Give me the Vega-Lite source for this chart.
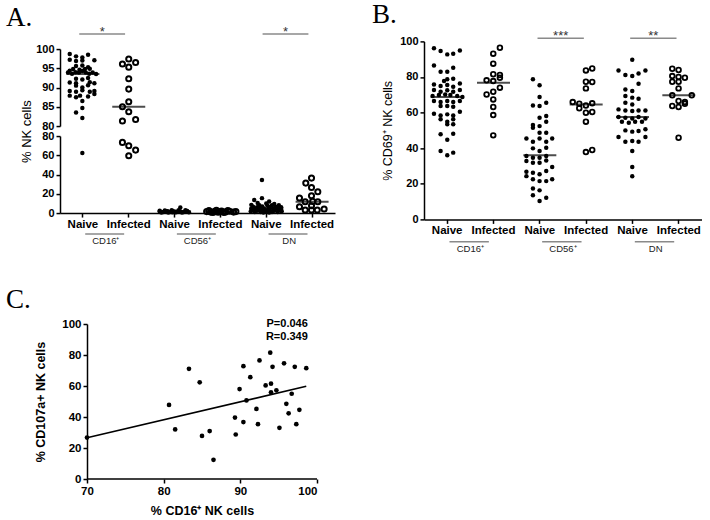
{
  "$schema": "https://vega.github.io/schema/vega-lite/v6.json",
  "padding": {"left": 6, "top": 0, "right": 0, "bottom": 0},
  "background": "white",
  "datasets": {
    "A": [
      {"cat":"CD16 Naive","v":98.7,"o":-2.3},{"cat":"CD16 Naive","v":98.1,"o":-1.2},{"cat":"CD16 Naive","v":97.8,"o":-0.1},{"cat":"CD16 Naive","v":98.5,"o":0.9},
      {"cat":"CD16 Naive","v":97.2,"o":-2.3},{"cat":"CD16 Naive","v":96.9,"o":-1.2},{"cat":"CD16 Naive","v":97.0,"o":-0.1},{"cat":"CD16 Naive","v":97.1,"o":2.0},
      {"cat":"CD16 Naive","v":95.6,"o":-1.2},{"cat":"CD16 Naive","v":95.7,"o":-0.1},{"cat":"CD16 Naive","v":95.3,"o":0.9},{"cat":"CD16 Naive","v":94.4,"o":-2.3},
      {"cat":"CD16 Naive","v":94.8,"o":-1.7},{"cat":"CD16 Naive","v":94.6,"o":-0.6},{"cat":"CD16 Naive","v":94.8,"o":0.35},{"cat":"CD16 Naive","v":94.9,"o":1.2},
      {"cat":"CD16 Naive","v":93.9,"o":-2.6},{"cat":"CD16 Naive","v":93.6,"o":-1.9},{"cat":"CD16 Naive","v":94.0,"o":-1.3},{"cat":"CD16 Naive","v":93.9,"o":-0.7},
      {"cat":"CD16 Naive","v":94.3,"o":-0.1},{"cat":"CD16 Naive","v":93.9,"o":0.5},{"cat":"CD16 Naive","v":93.6,"o":1.1},{"cat":"CD16 Naive","v":93.9,"o":1.7},
      {"cat":"CD16 Naive","v":93.5,"o":2.3},{"cat":"CD16 Naive","v":92.3,"o":-1.2},{"cat":"CD16 Naive","v":92.1,"o":-0.1},{"cat":"CD16 Naive","v":92.5,"o":0.9},
      {"cat":"CD16 Naive","v":91.3,"o":-2.3},{"cat":"CD16 Naive","v":91.1,"o":-1.2},{"cat":"CD16 Naive","v":91.4,"o":1.2},{"cat":"CD16 Naive","v":91.1,"o":2.0},
      {"cat":"CD16 Naive","v":90.5,"o":-1.2},{"cat":"CD16 Naive","v":90.0,"o":-0.1},{"cat":"CD16 Naive","v":90.6,"o":0.9},{"cat":"CD16 Naive","v":89.1,"o":-2.3},
      {"cat":"CD16 Naive","v":88.9,"o":-1.2},{"cat":"CD16 Naive","v":89.3,"o":-0.1},{"cat":"CD16 Naive","v":88.9,"o":1.2},{"cat":"CD16 Naive","v":89.1,"o":2.0},
      {"cat":"CD16 Naive","v":87.9,"o":-2.3},{"cat":"CD16 Naive","v":87.5,"o":-1.2},{"cat":"CD16 Naive","v":87.9,"o":-0.5},{"cat":"CD16 Naive","v":87.7,"o":0.9},
      {"cat":"CD16 Naive","v":88.3,"o":2.0},{"cat":"CD16 Naive","v":86.5,"o":-0.1},{"cat":"CD16 Naive","v":84.7,"o":-0.1},{"cat":"CD16 Naive","v":83.5,"o":-1.2},
      {"cat":"CD16 Naive","v":82.1,"o":-0.1},{"cat":"CD16 Naive","v":62.5,"o":-0.1},
      {"cat":"CD16 Infected","v":97.4,"o":0},{"cat":"CD16 Infected","v":96.1,"o":-1.1},{"cat":"CD16 Infected","v":95.3,"o":0},{"cat":"CD16 Infected","v":96.5,"o":1.2},
      {"cat":"CD16 Infected","v":92.3,"o":0},{"cat":"CD16 Infected","v":89.6,"o":0},{"cat":"CD16 Infected","v":86.3,"o":0},{"cat":"CD16 Infected","v":85.0,"o":-1.1},
      {"cat":"CD16 Infected","v":83.7,"o":0},{"cat":"CD16 Infected","v":81.3,"o":-1.1},{"cat":"CD16 Infected","v":81.7,"o":1.2},{"cat":"CD16 Infected","v":73.4,"o":-1.1},
      {"cat":"CD16 Infected","v":69.9,"o":0},{"cat":"CD16 Infected","v":65.4,"o":1.2},{"cat":"CD16 Infected","v":59.5,"o":0},
      {"cat":"CD56 Naive","v":1.5,"o":-2.6},{"cat":"CD56 Naive","v":1.0,"o":-2.0},{"cat":"CD56 Naive","v":1.8,"o":-1.4},{"cat":"CD56 Naive","v":1.2,"o":-0.8},
      {"cat":"CD56 Naive","v":2.0,"o":-0.2},{"cat":"CD56 Naive","v":1.0,"o":0.4},{"cat":"CD56 Naive","v":1.6,"o":1.0},{"cat":"CD56 Naive","v":1.2,"o":1.6},
      {"cat":"CD56 Naive","v":2.2,"o":2.2},{"cat":"CD56 Naive","v":0.6,"o":-2.3},{"cat":"CD56 Naive","v":0.5,"o":-1.1},{"cat":"CD56 Naive","v":0.7,"o":0.1},
      {"cat":"CD56 Naive","v":0.5,"o":1.3},{"cat":"CD56 Naive","v":0.8,"o":2.5},{"cat":"CD56 Naive","v":2.6,"o":-1.7},{"cat":"CD56 Naive","v":3.0,"o":-0.5},
      {"cat":"CD56 Naive","v":2.8,"o":0.7},{"cat":"CD56 Naive","v":5.8,"o":1.0},{"cat":"CD56 Naive","v":3.0,"o":1.9},{"cat":"CD56 Naive","v":2.4,"o":-2.6},
      {"cat":"CD56 Naive","v":1.4,"o":0.2},{"cat":"CD56 Naive","v":1.9,"o":-1.2},{"cat":"CD56 Naive","v":1.5,"o":2.0},{"cat":"CD56 Naive","v":0.9,"o":-0.4},
      {"cat":"CD56 Infected","v":1.5,"o":-2.4},{"cat":"CD56 Infected","v":1.0,"o":-1.7},{"cat":"CD56 Infected","v":1.8,"o":-1.0},{"cat":"CD56 Infected","v":0.8,"o":-0.4},
      {"cat":"CD56 Infected","v":2.2,"o":0.2},{"cat":"CD56 Infected","v":1.2,"o":0.9},{"cat":"CD56 Infected","v":1.8,"o":1.6},{"cat":"CD56 Infected","v":1.0,"o":2.3},
      {"cat":"CD56 Infected","v":1.5,"o":2.7},{"cat":"CD56 Infected","v":2.5,"o":-2.0},{"cat":"CD56 Infected","v":2.8,"o":-0.7},{"cat":"CD56 Infected","v":0.5,"o":0.6},
      {"cat":"CD56 Infected","v":2.6,"o":1.3},{"cat":"CD56 Infected","v":0.5,"o":-1.3},{"cat":"CD56 Infected","v":1.5,"o":0},
      {"cat":"DN Naive","v":34.3,"o":-0.75},{"cat":"DN Naive","v":13.5,"o":-2.1},{"cat":"DN Naive","v":15.5,"o":-0.75},{"cat":"DN Naive","v":12.0,"o":0.5},
      {"cat":"DN Naive","v":10.5,"o":-1.5},{"cat":"DN Naive","v":10.0,"o":0},{"cat":"DN Naive","v":9.5,"o":1.4},{"cat":"DN Naive","v":8.5,"o":-2.6},
      {"cat":"DN Naive","v":8.0,"o":-1.2},{"cat":"DN Naive","v":7.8,"o":0.2},{"cat":"DN Naive","v":8.2,"o":1.0},{"cat":"DN Naive","v":8.0,"o":2.2},
      {"cat":"DN Naive","v":6.5,"o":-2.3},{"cat":"DN Naive","v":6.0,"o":-1.6},{"cat":"DN Naive","v":6.8,"o":-0.7},{"cat":"DN Naive","v":6.2,"o":0.6},
      {"cat":"DN Naive","v":6.5,"o":1.6},{"cat":"DN Naive","v":6.0,"o":2.6},{"cat":"DN Naive","v":4.8,"o":-2.6},{"cat":"DN Naive","v":4.5,"o":-1.9},
      {"cat":"DN Naive","v":5.0,"o":-1.2},{"cat":"DN Naive","v":4.8,"o":-0.4},{"cat":"DN Naive","v":5.0,"o":0.4},{"cat":"DN Naive","v":4.5,"o":1.2},
      {"cat":"DN Naive","v":4.8,"o":1.9},{"cat":"DN Naive","v":4.6,"o":2.6},{"cat":"DN Naive","v":3.0,"o":-2.4},{"cat":"DN Naive","v":2.5,"o":-1.6},
      {"cat":"DN Naive","v":3.2,"o":-0.9},{"cat":"DN Naive","v":2.8,"o":-0.2},{"cat":"DN Naive","v":3.0,"o":0.6},{"cat":"DN Naive","v":2.5,"o":1.4},
      {"cat":"DN Naive","v":3.0,"o":2.2},{"cat":"DN Naive","v":1.2,"o":-2.0},{"cat":"DN Naive","v":1.0,"o":-1.0},{"cat":"DN Naive","v":1.5,"o":0},
      {"cat":"DN Naive","v":1.0,"o":1.0},{"cat":"DN Naive","v":1.2,"o":2.0},{"cat":"DN Naive","v":0.5,"o":-0.5},{"cat":"DN Naive","v":0.6,"o":0.5},
      {"cat":"DN Naive","v":2.0,"o":2.7},{"cat":"DN Naive","v":2.0,"o":-2.7},
      {"cat":"DN Infected","v":36.3,"o":-0.1},{"cat":"DN Infected","v":31.1,"o":-1.1},{"cat":"DN Infected","v":26.6,"o":-0.1},{"cat":"DN Infected","v":22.1,"o":1.0},
      {"cat":"DN Infected","v":18.0,"o":-0.1},{"cat":"DN Infected","v":15.6,"o":-2.2},{"cat":"DN Infected","v":11.8,"o":-1.2},{"cat":"DN Infected","v":12.1,"o":0.1},
      {"cat":"DN Infected","v":11.8,"o":1.0},{"cat":"DN Infected","v":6.6,"o":-2.2},{"cat":"DN Infected","v":3.1,"o":-1.2},{"cat":"DN Infected","v":3.1,"o":-0.1},
      {"cat":"DN Infected","v":3.1,"o":0.9},{"cat":"DN Infected","v":4.2,"o":2.1},{"cat":"DN Infected","v":7.6,"o":-0.1}
    ],
    "medA": [
      {"cat":"CD16 Naive","median":93.5},{"cat":"CD16 Infected","median":85.0},{"cat":"CD56 Naive","median":1.5},
      {"cat":"CD56 Infected","median":1.5},{"cat":"DN Naive","median":5.0},{"cat":"DN Infected","median":11.8}
    ],
    "B": [
      {"cat":"CD16 Naive","v":96.1,"o":-2.26},{"cat":"CD16 Naive","v":94.6,"o":-1.1},{"cat":"CD16 Naive","v":92.7,"o":0.06},{"cat":"CD16 Naive","v":93.1,"o":1.1},
      {"cat":"CD16 Naive","v":94.9,"o":2.26},{"cat":"CD16 Naive","v":86.5,"o":-2.26},{"cat":"CD16 Naive","v":83.0,"o":-1.1},{"cat":"CD16 Naive","v":83.0,"o":0.06},
      {"cat":"CD16 Naive","v":85.2,"o":1.1},{"cat":"CD16 Naive","v":77.7,"o":-0.5},{"cat":"CD16 Naive","v":78.7,"o":0.06},{"cat":"CD16 Naive","v":79.0,"o":1.1},
      {"cat":"CD16 Naive","v":75.8,"o":-2.26},{"cat":"CD16 Naive","v":74.9,"o":-1.1},{"cat":"CD16 Naive","v":75.5,"o":0.06},{"cat":"CD16 Naive","v":74.5,"o":1.1},
      {"cat":"CD16 Naive","v":76.4,"o":2.26},{"cat":"CD16 Naive","v":72.7,"o":-2.26},{"cat":"CD16 Naive","v":71.7,"o":-1.1},{"cat":"CD16 Naive","v":72.5,"o":0.06},
      {"cat":"CD16 Naive","v":71.7,"o":1.1},{"cat":"CD16 Naive","v":72.7,"o":2.26},{"cat":"CD16 Naive","v":69.3,"o":-2.5},{"cat":"CD16 Naive","v":69.9,"o":-1.4},
      {"cat":"CD16 Naive","v":70.2,"o":-0.3},{"cat":"CD16 Naive","v":69.9,"o":0.6},{"cat":"CD16 Naive","v":69.3,"o":1.8},{"cat":"CD16 Naive","v":68.7,"o":2.7},
      {"cat":"CD16 Naive","v":66.5,"o":-2.26},{"cat":"CD16 Naive","v":65.9,"o":-1.1},{"cat":"CD16 Naive","v":66.5,"o":0.06},{"cat":"CD16 Naive","v":65.9,"o":1.1},
      {"cat":"CD16 Naive","v":66.5,"o":2.26},{"cat":"CD16 Naive","v":63.7,"o":-1.1},{"cat":"CD16 Naive","v":63.7,"o":0.06},{"cat":"CD16 Naive","v":63.3,"o":1.1},
      {"cat":"CD16 Naive","v":59.4,"o":-2.26},{"cat":"CD16 Naive","v":58.4,"o":-1.1},{"cat":"CD16 Naive","v":59.0,"o":0.06},{"cat":"CD16 Naive","v":58.4,"o":1.1},
      {"cat":"CD16 Naive","v":60.5,"o":2.26},{"cat":"CD16 Naive","v":56.2,"o":-1.1},{"cat":"CD16 Naive","v":54.9,"o":0.06},{"cat":"CD16 Naive","v":56.2,"o":1.1},
      {"cat":"CD16 Naive","v":53.4,"o":0.06},{"cat":"CD16 Naive","v":53.4,"o":1.1},{"cat":"CD16 Naive","v":47.8,"o":-1.1},{"cat":"CD16 Naive","v":48.1,"o":1.1},
      {"cat":"CD16 Naive","v":44.8,"o":0.06},{"cat":"CD16 Naive","v":38.4,"o":-1.1},{"cat":"CD16 Naive","v":37.5,"o":1.1},{"cat":"CD16 Naive","v":36.0,"o":0.06},
      {"cat":"CD16 Infected","v":96.4,"o":1.16},{"cat":"CD16 Infected","v":93.1,"o":0},{"cat":"CD16 Infected","v":87.5,"o":0},{"cat":"CD16 Infected","v":81.5,"o":0},
      {"cat":"CD16 Infected","v":81.1,"o":1.16},{"cat":"CD16 Infected","v":79.6,"o":1.16},{"cat":"CD16 Infected","v":78.1,"o":-1.16},{"cat":"CD16 Infected","v":77.7,"o":0},
      {"cat":"CD16 Infected","v":74.0,"o":1.16},{"cat":"CD16 Infected","v":70.2,"o":-1.16},{"cat":"CD16 Infected","v":71.7,"o":0},{"cat":"CD16 Infected","v":67.4,"o":0},
      {"cat":"CD16 Infected","v":63.1,"o":0},{"cat":"CD16 Infected","v":58.6,"o":0},{"cat":"CD16 Infected","v":47.2,"o":0},
      {"cat":"CD56 Naive","v":78.7,"o":-1.16},{"cat":"CD56 Naive","v":75.3,"o":0},{"cat":"CD56 Naive","v":68.7,"o":0},{"cat":"CD56 Naive","v":64.0,"o":-1.16},
      {"cat":"CD56 Naive","v":63.7,"o":0},{"cat":"CD56 Naive","v":65.5,"o":1.16},{"cat":"CD56 Naive","v":57.1,"o":0},{"cat":"CD56 Naive","v":58.1,"o":1.16},
      {"cat":"CD56 Naive","v":53.0,"o":-1.16},{"cat":"CD56 Naive","v":51.5,"o":-1.16},{"cat":"CD56 Naive","v":52.4,"o":0},{"cat":"CD56 Naive","v":54.9,"o":1.16},
      {"cat":"CD56 Naive","v":48.7,"o":0},{"cat":"CD56 Naive","v":48.7,"o":1.16},{"cat":"CD56 Naive","v":45.5,"o":-2.3},{"cat":"CD56 Naive","v":43.6,"o":-1.16},
      {"cat":"CD56 Naive","v":45.5,"o":0},{"cat":"CD56 Naive","v":43.6,"o":1.16},{"cat":"CD56 Naive","v":45.5,"o":2.2},{"cat":"CD56 Naive","v":39.9,"o":-1.16},
      {"cat":"CD56 Naive","v":38.4,"o":0},{"cat":"CD56 Naive","v":40.3,"o":1.16},{"cat":"CD56 Naive","v":35.6,"o":-2.3},{"cat":"CD56 Naive","v":34.6,"o":-1.16},
      {"cat":"CD56 Naive","v":34.6,"o":0},{"cat":"CD56 Naive","v":35.6,"o":1.16},{"cat":"CD56 Naive","v":32.8,"o":-2.3},{"cat":"CD56 Naive","v":31.8,"o":-1.16},
      {"cat":"CD56 Naive","v":31.8,"o":0},{"cat":"CD56 Naive","v":33.1,"o":1.16},{"cat":"CD56 Naive","v":26.8,"o":-2.3},{"cat":"CD56 Naive","v":24.3,"o":-2.3},
      {"cat":"CD56 Naive","v":26.2,"o":-1.16},{"cat":"CD56 Naive","v":25.3,"o":0},{"cat":"CD56 Naive","v":27.2,"o":1.16},{"cat":"CD56 Naive","v":29.4,"o":2.2},
      {"cat":"CD56 Naive","v":22.5,"o":-1.16},{"cat":"CD56 Naive","v":21.5,"o":0},{"cat":"CD56 Naive","v":21.5,"o":1.16},{"cat":"CD56 Naive","v":22.5,"o":2.2},
      {"cat":"CD56 Naive","v":17.4,"o":-1.16},{"cat":"CD56 Naive","v":16.3,"o":0},{"cat":"CD56 Naive","v":13.5,"o":-1.16},{"cat":"CD56 Naive","v":12.2,"o":1.16},
      {"cat":"CD56 Naive","v":10.3,"o":0},
      {"cat":"CD56 Infected","v":83.7,"o":0},{"cat":"CD56 Infected","v":84.8,"o":1.1},{"cat":"CD56 Infected","v":77.3,"o":0},{"cat":"CD56 Infected","v":77.2,"o":1.1},
      {"cat":"CD56 Infected","v":73.6,"o":0},{"cat":"CD56 Infected","v":65.9,"o":-2.3},{"cat":"CD56 Infected","v":65.0,"o":-1.16},{"cat":"CD56 Infected","v":64.0,"o":0},
      {"cat":"CD56 Infected","v":65.2,"o":1.1},{"cat":"CD56 Infected","v":62.4,"o":-1.16},{"cat":"CD56 Infected","v":59.9,"o":0},{"cat":"CD56 Infected","v":60.3,"o":1.1},
      {"cat":"CD56 Infected","v":54.9,"o":0},{"cat":"CD56 Infected","v":37.8,"o":0},{"cat":"CD56 Infected","v":39.0,"o":1.1},
      {"cat":"DN Naive","v":89.7,"o":0},{"cat":"DN Naive","v":83.7,"o":-2.4},{"cat":"DN Naive","v":81.1,"o":-1.2},{"cat":"DN Naive","v":80.5,"o":0},
      {"cat":"DN Naive","v":82.0,"o":1.1},{"cat":"DN Naive","v":83.7,"o":2.3},{"cat":"DN Naive","v":76.2,"o":1.1},{"cat":"DN Naive","v":73.0,"o":-1.2},
      {"cat":"DN Naive","v":72.1,"o":0},{"cat":"DN Naive","v":69.3,"o":-1.2},{"cat":"DN Naive","v":68.4,"o":0},{"cat":"DN Naive","v":67.8,"o":1.1},
      {"cat":"DN Naive","v":65.5,"o":-1.2},{"cat":"DN Naive","v":64.6,"o":0},{"cat":"DN Naive","v":61.8,"o":-2.4},{"cat":"DN Naive","v":61.2,"o":-1.2},
      {"cat":"DN Naive","v":60.9,"o":0},{"cat":"DN Naive","v":61.2,"o":1.1},{"cat":"DN Naive","v":61.2,"o":2.3},{"cat":"DN Naive","v":57.5,"o":-2.4},
      {"cat":"DN Naive","v":57.1,"o":-1.2},{"cat":"DN Naive","v":56.7,"o":0},{"cat":"DN Naive","v":57.5,"o":1.1},{"cat":"DN Naive","v":56.7,"o":2.3},
      {"cat":"DN Naive","v":54.9,"o":-1.8},{"cat":"DN Naive","v":54.3,"o":-0.6},{"cat":"DN Naive","v":54.9,"o":0.5},{"cat":"DN Naive","v":54.9,"o":1.7},
      {"cat":"DN Naive","v":50.0,"o":-1.2},{"cat":"DN Naive","v":49.3,"o":0},{"cat":"DN Naive","v":49.6,"o":1.1},{"cat":"DN Naive","v":50.6,"o":2.3},
      {"cat":"DN Naive","v":46.3,"o":-2.4},{"cat":"DN Naive","v":43.6,"o":-1.2},{"cat":"DN Naive","v":44.0,"o":0},{"cat":"DN Naive","v":43.6,"o":1.1},
      {"cat":"DN Naive","v":46.3,"o":2.3},{"cat":"DN Naive","v":38.4,"o":0},{"cat":"DN Naive","v":29.4,"o":0},{"cat":"DN Naive","v":24.2,"o":0},
      {"cat":"DN Infected","v":84.6,"o":-1.1},{"cat":"DN Infected","v":83.9,"o":0},{"cat":"DN Infected","v":80.5,"o":-1.1},{"cat":"DN Infected","v":80.0,"o":0},
      {"cat":"DN Infected","v":79.6,"o":1.1},{"cat":"DN Infected","v":77.3,"o":-1.1},{"cat":"DN Infected","v":77.3,"o":0},{"cat":"DN Infected","v":73.6,"o":0},
      {"cat":"DN Infected","v":69.7,"o":-1.1},{"cat":"DN Infected","v":69.7,"o":2.3},{"cat":"DN Infected","v":66.5,"o":0},{"cat":"DN Infected","v":65.9,"o":1.1},
      {"cat":"DN Infected","v":65.0,"o":1.1},{"cat":"DN Infected","v":63.7,"o":-1.1},{"cat":"DN Infected","v":63.1,"o":0},{"cat":"DN Infected","v":45.9,"o":0}
    ],
    "medB": [
      {"cat":"CD16 Naive","median":68.7},{"cat":"CD16 Infected","median":76.8},{"cat":"CD56 Naive","median":36.0},
      {"cat":"CD56 Infected","median":64.6},{"cat":"DN Naive","median":57.5},{"cat":"DN Infected","median":69.7}
    ],
    "groups": [
      {"from":"CD16 Naive","to":"CD16 Infected","group":"CD16⁺"},
      {"from":"CD56 Naive","to":"CD56 Infected","group":"CD56⁺"},
      {"from":"DN Naive","to":"DN Infected","group":"DN"}
    ],
    "sigA": [
      {"from":"CD16 Naive","to":"CD16 Infected","label":"*"},
      {"from":"DN Naive","to":"DN Infected","label":"*"}
    ],
    "sigB": [
      {"from":"CD56 Naive","to":"CD56 Infected","label":"***"},
      {"from":"DN Naive","to":"DN Infected","label":"**"}
    ],
    "C": [
      {"cd16":70.0,"cd107a":26.7},{"cd16":80.7,"cd107a":47.8},{"cd16":81.5,"cd107a":32.0},{"cd16":83.3,"cd107a":71.1},
      {"cd16":84.7,"cd107a":62.4},{"cd16":85.0,"cd107a":27.8},{"cd16":86.0,"cd107a":30.9},{"cd16":86.5,"cd107a":12.4},
      {"cd16":89.3,"cd107a":39.6},{"cd16":89.4,"cd107a":28.7},{"cd16":89.9,"cd107a":58.0},{"cd16":90.4,"cd107a":72.8},
      {"cd16":90.4,"cd107a":36.7},{"cd16":90.8,"cd107a":50.7},{"cd16":91.3,"cd107a":65.7},{"cd16":92.1,"cd107a":45.2},
      {"cd16":92.3,"cd107a":35.4},{"cd16":92.5,"cd107a":76.5},{"cd16":93.3,"cd107a":60.4},{"cd16":93.9,"cd107a":81.5},
      {"cd16":94.0,"cd107a":61.5},{"cd16":94.0,"cd107a":55.9},{"cd16":94.2,"cd107a":72.4},{"cd16":94.7,"cd107a":57.2},
      {"cd16":95.1,"cd107a":33.0},{"cd16":95.7,"cd107a":74.6},{"cd16":96.0,"cd107a":48.5},{"cd16":96.3,"cd107a":42.4},
      {"cd16":96.7,"cd107a":55.0},{"cd16":97.1,"cd107a":72.4},{"cd16":97.3,"cd107a":35.4},{"cd16":97.7,"cd107a":44.6},
      {"cd16":98.6,"cd107a":71.5}
    ],
    "fit": [{"cd16":70.0,"cd107a":26.6},{"cd16":98.6,"cd107a":59.8}],
    "stats": [{"text": ["P=0.046", "R=0.349"]}]
  },
  "vconcat": [
    {
      "hconcat": [
        {
          "vconcat": [
            {
              "width": 275, "height": 77,
              "title": {"text": "A.", "dx": -54, "dy": 10},
              "layer": [
                {
                  "data": {"name": "sigA"},
                  "mark": {"type": "rule", "color": "#8a8a8a", "strokeWidth": 1.5},
                  "encoding": {
                    "x": {"field": "from", "type": "nominal", "bandPosition": 0.42, "scale": {"domain": ["CD16 Naive","CD16 Infected","CD56 Naive","CD56 Infected","DN Naive","DN Infected"], "paddingInner": 0, "paddingOuter": 0}, "axis": null},
                    "x2": {"field": "to", "bandPosition": 0.42},
                    "y": {"datum": 103.9, "type": "quantitative", "scale": {"domain": [80, 100], "nice": false, "zero": false}, "axis": {"values": [80,85,90,95,100], "tickCount": 20, "title": null}}
                  }
                },
                {
                  "data": {"name": "sigA"},
                  "mark": {"type": "text", "fontSize": 13, "color": "#333", "baseline": "alphabetic", "font": "Liberation Sans"},
                  "encoding": {
                    "x": {"field": "from", "type": "nominal", "bandPosition": 0.92, "scale": {"domain": ["CD16 Naive","CD16 Infected","CD56 Naive","CD56 Infected","DN Naive","DN Infected"], "paddingInner": 0, "paddingOuter": 0}, "axis": null},
                    "y": {"datum": 103.5, "type": "quantitative"},
                    "text": {"field": "label"}
                  }
                },
                {
                  "data": {"name": "A"},
                  "transform": [{"filter": "datum.v >= 80 && test(/Naive/, datum.cat)"}],
                  "mark": {"type": "point", "shape": "circle", "filled": true, "color": "#000", "size": 20, "opacity": 1},
                  "encoding": {
                    "x": {"field": "cat", "type": "nominal", "scale": {"domain": ["CD16 Naive","CD16 Infected","CD56 Naive","CD56 Infected","DN Naive","DN Infected"], "paddingInner": 0, "paddingOuter": 0}, "axis": null},
                    "xOffset": {"field": "o", "type": "quantitative", "scale": {"domain": [-4, 4]}},
                    "y": {"field": "v", "type": "quantitative"}
                  }
                },
                {
                  "data": {"name": "A"},
                  "transform": [{"filter": "datum.v >= 80 && test(/Infected/, datum.cat)"}],
                  "mark": {"type": "point", "shape": "circle", "filled": false, "color": "#000", "size": 26, "strokeWidth": 2, "opacity": 1},
                  "encoding": {
                    "x": {"field": "cat", "type": "nominal", "scale": {"domain": ["CD16 Naive","CD16 Infected","CD56 Naive","CD56 Infected","DN Naive","DN Infected"], "paddingInner": 0, "paddingOuter": 0}, "axis": null},
                    "xOffset": {"field": "o", "type": "quantitative", "scale": {"domain": [-4, 4]}},
                    "y": {"field": "v", "type": "quantitative"}
                  }
                },
                {
                  "data": {"name": "medA"},
                  "transform": [{"filter": "datum.median >= 80"}],
                  "mark": {"type": "tick", "orient": "horizontal", "color": "#000", "size": 33, "thickness": 2},
                  "encoding": {
                    "x": {"field": "cat", "type": "nominal", "scale": {"domain": ["CD16 Naive","CD16 Infected","CD56 Naive","CD56 Infected","DN Naive","DN Infected"], "paddingInner": 0, "paddingOuter": 0}, "axis": null},
                    "y": {"field": "median", "type": "quantitative"}
                  }
                }
              ]
            },
            {
              "width": 275, "height": 77,
              "layer": [
                {
                  "data": {"name": "groups"},
                  "mark": {"type": "rule", "color": "#8a8a8a", "strokeWidth": 1.5},
                  "encoding": {
                    "x": {"field": "from", "type": "nominal", "bandPosition": 0.55, "scale": {"domain": ["CD16 Naive","CD16 Infected","CD56 Naive","CD56 Infected","DN Naive","DN Infected"], "paddingInner": 0, "paddingOuter": 0}, "axis": {"title": null, "labelExpr": "split(datum.value, ' ')[1]", "labelAngle": 0, "labelFontSize": 11.5, "labelPadding": 1}},
                    "x2": {"field": "to", "bandPosition": 0.4},
                    "y": {"datum": -21.8, "type": "quantitative", "scale": {"domain": [0, 80], "nice": false, "zero": false}, "axis": {"values": [0,20,40,60,80], "tickCount": 20, "title": "% NK cells", "titleX": -30, "titleY": -5, "titleAlign": "center", "titleBaseline": "alphabetic", "titleFontWeight": "normal", "titleFontSize": 13}}
                  }
                },
                {
                  "data": {"name": "groups"},
                  "mark": {"type": "text", "fontSize": 9.5, "color": "#222", "baseline": "middle", "font": "Liberation Sans"},
                  "encoding": {
                    "x": {"field": "from", "type": "nominal", "bandPosition": 1},
                    "y": {"datum": -29.5, "type": "quantitative"},
                    "text": {"field": "group"}
                  }
                },
                {
                  "data": {"name": "A"},
                  "transform": [{"filter": "datum.v < 80 && test(/Naive/, datum.cat)"}],
                  "mark": {"type": "point", "shape": "circle", "filled": true, "color": "#000", "size": 20, "opacity": 1},
                  "encoding": {
                    "x": {"field": "cat", "type": "nominal"},
                    "xOffset": {"field": "o", "type": "quantitative", "scale": {"domain": [-4, 4]}},
                    "y": {"field": "v", "type": "quantitative"}
                  }
                },
                {
                  "data": {"name": "A"},
                  "transform": [{"filter": "datum.v < 80 && test(/Infected/, datum.cat)"}],
                  "mark": {"type": "point", "shape": "circle", "filled": false, "color": "#000", "size": 26, "strokeWidth": 2, "opacity": 1},
                  "encoding": {
                    "x": {"field": "cat", "type": "nominal"},
                    "xOffset": {"field": "o", "type": "quantitative", "scale": {"domain": [-4, 4]}},
                    "y": {"field": "v", "type": "quantitative"}
                  }
                },
                {
                  "data": {"name": "medA"},
                  "transform": [{"filter": "datum.median < 80"}],
                  "mark": {"type": "tick", "orient": "horizontal", "color": "#000", "size": 33, "thickness": 2},
                  "encoding": {
                    "x": {"field": "cat", "type": "nominal"},
                    "y": {"field": "median", "type": "quantitative"}
                  }
                }
              ]
            }
          ],
          "spacing": 10,
          "bounds": "flush"
        },
        {
          "width": 278, "height": 178,
          "title": {"text": "B.", "dx": -52, "dy": 2.5},
          "layer": [
            {
              "data": {"name": "sigB"},
              "mark": {"type": "rule", "color": "#8a8a8a", "strokeWidth": 1.5},
              "encoding": {
                "x": {"field": "from", "type": "nominal", "bandPosition": 0.45, "scale": {"domain": ["CD16 Naive","CD16 Infected","CD56 Naive","CD56 Infected","DN Naive","DN Infected"], "paddingInner": 0, "paddingOuter": 0}, "axis": {"title": null, "labelExpr": "split(datum.value, ' ')[1]", "labelAngle": 0, "labelFontSize": 11.5, "labelPadding": 1}},
                "x2": {"field": "to", "bandPosition": 0.45},
                "y": {"datum": 101.7, "type": "quantitative", "scale": {"domain": [0, 100], "nice": false}, "axis": {"values": [0,20,40,60,80,100], "tickCount": 20, "title": "% CD69⁺ NK cells", "titleFontWeight": "normal", "titleFontSize": 12.5, "titlePadding": 5}}
              }
            },
            {
              "data": {"name": "sigB"},
              "mark": {"type": "text", "fontSize": 13, "color": "#333", "baseline": "alphabetic", "font": "Liberation Sans"},
              "encoding": {
                "x": {"field": "from", "type": "nominal", "bandPosition": 0.95},
                "y": {"datum": 100.7, "type": "quantitative"},
                "text": {"field": "label"}
              }
            },
            {
              "data": {"name": "groups"},
              "mark": {"type": "rule", "color": "#8a8a8a", "strokeWidth": 1.5},
              "encoding": {
                "x": {"field": "from", "type": "nominal", "bandPosition": 0.55},
                "x2": {"field": "to", "bandPosition": 0.4},
                "y": {"datum": -12.5, "type": "quantitative"}
              }
            },
            {
              "data": {"name": "groups"},
              "mark": {"type": "text", "fontSize": 9.5, "color": "#222", "baseline": "middle", "font": "Liberation Sans"},
              "encoding": {
                "x": {"field": "from", "type": "nominal", "bandPosition": 1},
                "y": {"datum": -16.7, "type": "quantitative"},
                "text": {"field": "group"}
              }
            },
            {
              "data": {"name": "B"},
              "transform": [{"filter": "test(/Naive/, datum.cat)"}],
              "mark": {"type": "point", "shape": "circle", "filled": true, "color": "#000", "size": 20, "opacity": 1},
              "encoding": {
                "x": {"field": "cat", "type": "nominal"},
                "xOffset": {"field": "o", "type": "quantitative", "scale": {"domain": [-4, 4]}},
                "y": {"field": "v", "type": "quantitative"}
              }
            },
            {
              "data": {"name": "B"},
              "transform": [{"filter": "test(/Infected/, datum.cat)"}],
              "mark": {"type": "point", "shape": "circle", "filled": false, "color": "#000", "size": 22, "strokeWidth": 1.8, "opacity": 1},
              "encoding": {
                "x": {"field": "cat", "type": "nominal"},
                "xOffset": {"field": "o", "type": "quantitative", "scale": {"domain": [-4, 4]}},
                "y": {"field": "v", "type": "quantitative"}
              }
            },
            {
              "data": {"name": "medB"},
              "mark": {"type": "tick", "orient": "horizontal", "color": "#000", "size": 33, "thickness": 2},
              "encoding": {
                "x": {"field": "cat", "type": "nominal"},
                "y": {"field": "median", "type": "quantitative"}
              }
            }
          ]
        }
      ],
      "spacing": 37,
      "center": true
    },
    {
      "width": 257, "height": 155,
      "title": {"text": "C.", "dx": -54, "dy": 7, "offset": 11},
      "layer": [
        {
          "data": {"name": "fit"},
          "mark": {"type": "line", "color": "#000", "strokeWidth": 1.6},
          "encoding": {
            "x": {"field": "cd16", "type": "quantitative", "scale": {"domain": [66.478, 100], "nice": false, "zero": false}, "axis": {"values": [70,80,90,100], "tickCount": 20, "domain": false, "title": "% CD16⁺ NK cells", "titleX": 142, "titleAlign": "center", "titleFontWeight": "bold", "titleFontSize": 12.5, "titlePadding": 8, "labelFontSize": 11.5}},
            "y": {"field": "cd107a", "type": "quantitative", "scale": {"domain": [0, 100], "nice": false}, "axis": {"values": [0,20,40,60,80,100], "tickCount": 20, "offset": -27, "title": "% CD107a+ NK cells", "titleFontWeight": "bold", "titleFontSize": 12.5, "titlePadding": 14, "labelFontSize": 11.5}}
          }
        },
        {
          "data": {"values": [{"from": 70, "to": 100}]},
          "mark": {"type": "rule", "color": "#000", "strokeWidth": 1.5},
          "encoding": {
            "x": {"field": "from", "type": "quantitative"},
            "x2": {"field": "to"},
            "y": {"datum": 0, "type": "quantitative"}
          }
        },
        {
          "data": {"name": "C"},
          "mark": {"type": "point", "shape": "circle", "filled": true, "color": "#000", "size": 22, "opacity": 1},
          "encoding": {
            "x": {"field": "cd16", "type": "quantitative"},
            "y": {"field": "cd107a", "type": "quantitative"}
          }
        },
        {
          "data": {"name": "stats"},
          "mark": {"type": "text", "align": "right", "baseline": "top", "fontSize": 11, "fontWeight": "bold", "lineHeight": 13, "font": "Liberation Sans", "color": "#000"},
          "encoding": {
            "x": {"datum": 98.8, "type": "quantitative"},
            "y": {"datum": 104, "type": "quantitative"},
            "text": {"field": "text"}
          }
        }
      ]
    }
  ],
  "spacing": 31,
  "config": {
    "view": {"stroke": null},
    "font": "Liberation Sans",
    "axis": {"grid": false, "labelOverlap": false, "domainColor": "#000", "domainWidth": 1.5, "tickColor": "#000", "tickWidth": 1.5, "tickSize": 4, "labelFont": "Liberation Sans", "labelFontWeight": "bold", "labelFontSize": 11, "labelColor": "#000", "labelPadding": 2, "titleFont": "Liberation Sans", "titleColor": "#000"},
    "title": {"font": "Liberation Serif", "fontSize": 27, "fontWeight": "normal", "color": "#000", "anchor": "start", "frame": "group", "baseline": "alphabetic", "offset": 0}
  }
}
